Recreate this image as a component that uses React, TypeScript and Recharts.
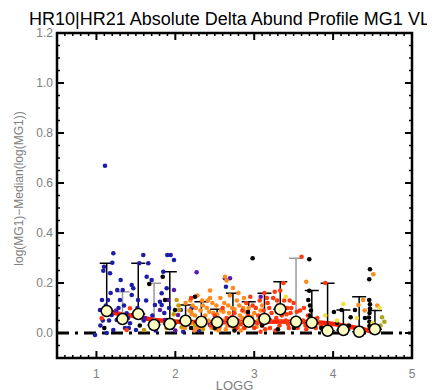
import React from 'react';
import { ComposedChart, Scatter, Line, XAxis, YAxis, ReferenceLine, ReferenceArea, ErrorBar } from 'recharts';

// ---- data (logg, delta) ----
const navyPts: number[][] = [
  [1.214,0.319],[1.201,0.281],[1.087,0.249],[1.172,0.239],[1.096,0.265],[1.307,0.212],[1.264,0.172],[1.333,0.172],
  [1.070,0.132],[1.447,0.192],[1.467,0.179],[1.447,0.152],[1.594,0.312],[1.543,0.279],[1.657,0.279],[1.700,0.212],
  [1.827,0.159],[1.805,0.125],[1.045,0.092],[1.193,0.072],[1.257,0.052],[1.383,0.079],[1.425,0.039],[1.214,0.012],
  [1.130,0.0],[0.982,-0.008],[1.898,0.312],[1.941,0.312],[1.983,0.292],[1.847,0.245],[1.890,0.179],[1.827,0.112],
  [2.629,0.219],[2.642,0.185],[2.207,0.099],[2.068,0.092],[1.637,0.225],[1.527,0.132],[1.577,0.072],[1.742,0.112],
  [1.298,0.132],[1.146,0.132],[1.679,0.032],[1.501,0.012],[1.362,0.020],[1.108,0.669],
  [1.05,0.03],[1.16,0.05],[1.28,0.1],[1.6,0.05],[1.75,0.01],[1.95,0.02],[2.1,0.005],[2.3,0.01],
  [1.12,0.11],[1.18,0.16],[1.35,0.11],[1.41,0.02],[1.52,0.1],[1.63,0.13],[1.71,0.07],[1.78,0.04],[1.86,0.08],
  [1.92,0.1],[1.08,0.05]
];
const purplePts: number[][] = [
  [2.270,0.243],[3.082,0.145],[1.983,0.172],[1.805,0.092],[1.869,0.052],[2.034,0.072],[1.527,0.084],[1.615,0.060],
  [2.122,0.040],[2.439,0.032],[1.907,0.132],[2.693,0.219],[1.70,0.02],[2.0,0.01],[1.4,0.06],[1.25,0.09]
];
const blackPts: number[][] = [
  [1.840,0.225],[1.670,0.196],[2.249,0.145],[1.869,0.132],[1.996,0.092],[1.907,0.052],[2.980,0.299],[3.698,0.295],
  [3.698,0.169],[3.685,0.132],[3.707,0.110],[3.719,0.090],[3.707,0.070],[3.712,0.050],[3.72,0.03],[2.921,0.084],
  [2.946,0.060],[4.467,0.255],[4.458,0.215],[4.458,0.132],[4.467,0.115],[4.467,0.098],[4.462,0.080],[4.454,0.062],
  [4.46,0.045],[4.46,0.028],[4.108,0.092],[4.222,0.063],[4.277,0.092],[4.010,0.084],[4.404,0.060],[3.504,0.020],
  [1.298,0.060],[2.5,0.02],[3.1,0.03],[3.3,0.015],[3.85,0.02],[4.05,0.04],[4.2,0.03],[4.35,0.02],[1.1,0.02],
  [1.55,0.03],[2.2,0.02],[2.75,0.01]
];
const goldPts: number[][] = [
  [2.017,0.132],[2.040,0.110],[2.080,0.023],[1.890,0.019],[2.050,0.092],[1.603,0.012],[2.15,0.06],[2.25,0.03],
  [2.20,0.085],[1.96,0.05],[2.35,0.015],[1.98,0.075],[2.1,0.04]
];
const orangePts: number[][] = [
  [2.12,0.02],[2.15,0.06],[2.18,0.09],[2.2,0.04],[2.22,0.11],[2.25,0.07],[2.27,0.02],[2.3,0.05],[2.32,0.09],
  [2.34,0.13],[2.36,0.03],[2.38,0.07],[2.4,0.1],[2.42,0.05],[2.44,0.14],[2.46,0.02],[2.48,0.08],[2.5,0.04],
  [2.52,0.11],[2.54,0.06],[2.56,0.02],[2.58,0.09],[2.6,0.05],[2.62,0.12],[2.63,0.225],[2.65,0.21],[2.66,0.03],
  [2.68,0.08],[2.7,0.06],[2.72,0.1],[2.74,0.02],[2.76,0.05],[2.78,0.13],[2.8,0.16],[2.82,0.07],[2.84,0.04],
  [2.86,0.1],[2.88,0.02],[2.9,0.06],[2.13,0.12],[2.28,0.15],[2.44,0.17],[2.57,0.14],[2.73,0.18],[2.95,0.03],
  [3.0,0.08],[3.05,0.05],[3.1,0.11],[2.24,0.01],[2.55,0.01],[2.83,0.01],[3.66,0.205],[4.51,0.235],[4.38,0.132],
  [4.32,0.112],[4.4,0.09],[4.56,0.11],
  [2.16,0.035],[2.21,0.075],[2.26,0.1],[2.31,0.025],[2.35,0.11],[2.39,0.045],[2.43,0.085],[2.47,0.12],[2.51,0.015],
  [2.53,0.075],[2.57,0.045],[2.61,0.085],[2.64,0.015],[2.67,0.11],[2.71,0.035],[2.75,0.095],[2.79,0.025],[2.81,0.11],
  [2.85,0.06],[2.89,0.085],[2.93,0.1],[2.97,0.065],[3.03,0.025],[3.08,0.09],[2.19,0.13],[2.41,0.13],[2.69,0.15],[2.87,0.14]
];
const redPts: number[][] = [
  [2.2,0.14],[2.45,0.03],[2.5,0.07],[2.6,0.1],[2.7,0.03],[2.8,0.05],[2.85,0.09],[2.9,0.12],[2.95,0.145],[2.97,0.04],
  [3.0,0.02],[3.02,0.1],[3.05,0.07],[3.07,0.13],[3.1,0.03],[3.12,0.09],[3.15,0.05],[3.17,0.12],[3.2,0.02],[3.22,0.08],
  [3.24,0.14],[3.26,0.165],[3.28,0.06],[3.3,0.11],[3.32,0.03],[3.35,0.07],[3.37,0.2],[3.38,0.13],[3.4,0.05],[3.42,0.1],
  [3.44,0.02],[3.46,0.08],[3.48,0.04],[3.5,0.12],[3.52,0.06],[3.55,0.02],[3.58,0.09],[3.6,0.305],[3.62,0.05],[3.65,0.03],
  [3.68,0.07],[3.75,0.04],[3.8,0.06],[3.9,0.2],[3.85,0.03],[2.92,0.07],[2.87,0.02],[2.75,0.08],[2.65,0.06],[3.13,0.16],
  [3.33,0.17],[3.08,0.005],[3.27,0.01],[3.45,0.13],[2.98,0.11],[1.066,0.059],[1.425,0.099],[1.383,0.012],
  [2.55,0.03],[2.62,0.045],[2.72,0.065],[2.78,0.02],[2.83,0.035],[2.94,0.055],[3.04,0.04],[3.09,0.06],[3.14,0.015],
  [3.19,0.1],[3.21,0.045],[3.29,0.085],[3.34,0.045],[3.36,0.1],[3.41,0.075],[3.43,0.035],[3.47,0.1],[3.51,0.03],
  [3.54,0.085],[3.57,0.05],[3.63,0.1],[3.66,0.015],[3.7,0.05],[3.78,0.02],[3.16,0.14],[3.29,0.13]
];
const yellowPts: number[][] = [[3.4,0.145],[4.13,0.116],[4.59,0.1],[4.05,0.05],[4.5,0.04],[3.9,0.07],[4.3,0.06]];
const olivePts: number[][] = [[4.62,0.063],[4.6,0.03],[4.55,0.02],[4.65,0.045]];

// binned medians with upper spread
const binLogg = [1.13,1.33,1.53,1.73,1.93,2.13,2.33,2.53,2.73,2.93,3.13,3.33,3.53,3.73,3.93,4.13,4.33,4.53];
const binMedian = [0.088,0.056,0.076,0.032,0.036,0.049,0.045,0.043,0.045,0.045,0.056,0.095,0.045,0.041,0.009,0.012,0.005,0.015];
const binUpper = [0.279,0.165,0.279,0.199,0.245,0.112,0.125,0.095,0.159,0.125,0.159,0.205,0.299,0.17,0.199,0.092,0.145,0.09];
const binGray = [false,true,false,true,false,false,false,false,false,false,false,false,true,false,false,false,false,false];

// smoothed trend
const trendLogg = [1.13,1.3,1.47,1.68,1.89,2.19,2.6,2.95,3.33,3.54,3.75,3.96,4.17,4.38,4.51];
const trendVal = [0.086,0.076,0.068,0.055,0.048,0.044,0.043,0.043,0.046,0.045,0.043,0.038,0.028,0.015,0.004];

// axes
const xMajor = [1, 2, 3, 4, 5];
const yMajor = [0, 0.2, 0.4, 0.6, 0.8, 1.0, 1.2];
const xTicksAll: number[] = [];
for (let i = 5; i <= 50; i++) xTicksAll.push(i / 10);
const yTicksAll: number[] = [];
for (let i = -2; i <= 24; i++) yTicksAll.push(i / 20);

// layout
const W = 427, H = 382;
const M = { top: 25, right: 23, left: 0, bottom: 0 };
const YW = 49, XH = 32;
const PW = W - M.left - M.right - YW;   // plot width
const PH = H - M.top - M.bottom - XH;   // plot height

const toPts = (a: number[][]) => a.map(([x, y]) => ({ x, y }));
const medianData = binLogg.map((x, i) => ({ x, y: binMedian[i], err: [0, binUpper[i] - binMedian[i]], gray: binGray[i] }));
const medBlack = medianData.filter(d => !d.gray);
const medGray = medianData.filter(d => d.gray);
const trendData = trendLogg.map((x, i) => ({ x, y: trendVal[i] }));

const dot = (color: string) => (p: any) => <circle cx={p.cx} cy={p.cy} r={2.3} fill={color} />;
const medShape = (p: any) => <circle cx={p.cx} cy={p.cy} r={5.5} fill="#ffffc4" stroke="#000" strokeWidth={1.5} />;

const series: [number[][], string][] = [
  [navyPts, '#1c1ca8'],
  [purplePts, '#5a1aa8'],
  [goldPts, '#c89a00'],
  [orangePts, '#ff8a1e'],
  [redPts, '#ff3a10'],
  [blackPts, '#000000'],
  [yellowPts, '#f0e040'],
  [olivePts, '#a8a820'],
];

const X = { xAxisId: 'm', yAxisId: 'm' };
const FONT = 'Liberation Sans, Arial, sans-serif';
const isMajor = (v: number, majors: number[]) => majors.some(m => Math.abs(m - v) < 1e-6);

const XTick = (p: any) => {
  const v = p.payload.value;
  const major = isMajor(v, xMajor);
  const len = major ? 7 : 3;
  const sw = major ? 2 : 1.5;
  return (
    <g>
      <line x1={p.x} x2={p.x} y1={p.y} y2={p.y - len} stroke="#000" strokeWidth={sw} />
      <line x1={p.x} x2={p.x} y1={p.y - PH} y2={p.y - PH + len} stroke="#000" strokeWidth={sw} />
      {major && <text x={p.x} y={p.y + 20} textAnchor="middle" fill="#808080" fontSize={12} fontFamily={FONT}>{v}</text>}
    </g>
  );
};
const YTick = (p: any) => {
  const v = p.payload.value;
  const major = isMajor(v, yMajor);
  const len = major ? 7 : 3;
  const sw = major ? 2 : 1.5;
  return (
    <g>
      <line x1={p.x} x2={p.x + len} y1={p.y} y2={p.y} stroke="#000" strokeWidth={sw} />
      <line x1={p.x + PW} x2={p.x + PW - len} y1={p.y} y2={p.y} stroke="#000" strokeWidth={sw} />
      {major && <text x={p.x - 4} y={p.y} dy="0.36em" textAnchor="end" fill="#808080" fontSize={12} fontFamily={FONT}>{v.toFixed(1)}</text>}
    </g>
  );
};

export default function App() {
  return (
    <div style={{ position: 'relative', width: W, height: H }}>
      <div style={{ position: 'absolute', left: 21, top: 2, fontFamily: FONT, fontSize: 18, lineHeight: '18px', color: '#000', whiteSpace: 'nowrap' }}>
        HR10|HR21 Absolute Delta Abund Profile MG1 VL_
      </div>
      <ComposedChart width={W} height={H} margin={M}>
        <XAxis xAxisId="m" type="number" dataKey="x" domain={[0.5, 5]} ticks={xTicksAll} interval={0} allowDataOverflow
          tickLine={false} axisLine={false} tick={<XTick />} tickSize={0} tickMargin={0} height={XH}
          label={{ content: (p: any) => (
            <text x={p.viewBox.x + p.viewBox.width / 2} y={p.viewBox.y + 32} textAnchor="middle" fill="#808080" fontSize={13} fontFamily={FONT}>LOGG</text>
          ) }} />
        <YAxis yAxisId="m" type="number" dataKey="y" domain={[-0.1, 1.2]} ticks={yTicksAll} interval={0} allowDataOverflow
          tickLine={false} axisLine={false} tick={<YTick />} tickSize={0} tickMargin={0} width={YW}
          label={{ content: (p: any) => {
            const cx = p.viewBox.x + 11; const cy = p.viewBox.y + p.viewBox.height / 2 - 7;
            return <text x={cx} y={cy} transform={`rotate(-90 ${cx} ${cy})`} textAnchor="middle" dominantBaseline="central" fill="#808080" fontSize={12} fontFamily={FONT}>log(MG1)−Median(log(MG1))</text>;
          } }} />

        <ReferenceArea {...X} x1={0.5} x2={5} y1={-0.1} y2={1.2} fill="none" fillOpacity={0} stroke="#000" strokeWidth={2.5} />
        <ReferenceLine {...X} y={0} stroke="#000" strokeWidth={3} strokeDasharray="12 6 3 6" />
        {series.map(([pts, color], i) => (
          <Scatter key={i} {...X} data={toPts(pts)} dataKey="y" shape={dot(color)} isAnimationActive={false} />
        ))}
        <Line {...X} data={trendData} dataKey="y" type="monotone" stroke="#ff2200" strokeWidth={4.5} dot={false} activeDot={false} isAnimationActive={false} />
        <Scatter {...X} data={medGray} dataKey="y" shape={medShape} isAnimationActive={false}>
          <ErrorBar dataKey="err" direction="y" width={7} stroke="#9a9a9a" strokeWidth={1.5} />
        </Scatter>
        <Scatter {...X} data={medBlack} dataKey="y" shape={medShape} isAnimationActive={false}>
          <ErrorBar dataKey="err" direction="y" width={7} stroke="#000" strokeWidth={1.5} />
        </Scatter>
      </ComposedChart>
    </div>
  );
}
